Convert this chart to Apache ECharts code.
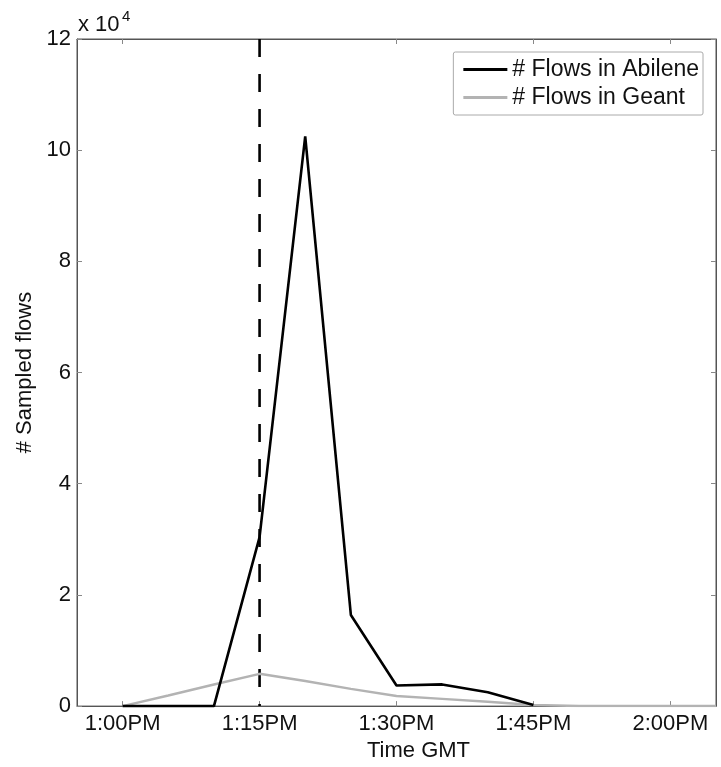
<!DOCTYPE html>
<html>
<head>
<meta charset="utf-8">
<script src="https://cdn.jsdelivr.net/npm/echarts@6/dist/echarts.min.js"></script>
<style>
  html, body { margin: 0; padding: 0; background: #fff; }
  #chart { width: 721px; height: 767px; }
</style>
</head>
<body>
<div id="chart"></div>
<script>
// Minutes after 1:00PM GMT
const minutes = [0, 5, 10, 15, 20, 25, 30, 35, 40, 45];
const abilene = [0, 0, 0, 30400, 102500, 16400, 3700, 3900, 2500, 200];
const geantMinutes = [0, 5, 10, 15, 20, 25, 30, 35, 40, 45, 50, 55, 60, 65];
const geant = [0, 1900, 3900, 5800, 4500, 3100, 1800, 1300, 800, 200, 0, 0, 0, 0];
const xTickValues = [0, 15, 30, 45, 60];
const xTickLabels = ['1:00PM', '1:15PM', '1:30PM', '1:45PM', '2:00PM'];
const eventMinute = 15;
const yMax = 120000;
const seriesNames = ['# Flows in Abilene', '# Flows in Geant'];

const FONT = '"Liberation Sans", Arial, Helvetica, sans-serif';
const chart = echarts.init(document.getElementById('chart'), null, { renderer: 'canvas' });

const axisGray = '#555';
const tickStyle = { show: true, inside: true, length: 5, lineStyle: { color: '#888', width: 1 } };
const lineIcon = 'path://M0,0 L44,0 L44,3 L0,3 Z';

const option = {
  animation: false,
  backgroundColor: '#fff',
  textStyle: { fontFamily: FONT },
  grid: {
    left: 77, right: 5, top: 39, bottom: 55,
    show: true, borderColor: axisGray, borderWidth: 1, backgroundColor: '#fff'
  },
  legend: {
    orient: 'vertical',
    right: 18, top: 52,
    itemWidth: 44, itemHeight: 3, itemGap: 5,
    backgroundColor: '#fff',
    borderColor: '#aaa', borderWidth: 1, borderRadius: 2,
    padding: [6, 4, 6, 10],
    textStyle: { fontSize: 23, color: '#111', fontFamily: FONT, lineHeight: 23 },
    data: [
      { name: seriesNames[0], icon: lineIcon, itemStyle: { color: '#000' } },
      { name: seriesNames[1], icon: lineIcon, itemStyle: { color: '#b3b3b3' } }
    ]
  },
  xAxis: [
    {
      type: 'value', min: -5, max: 65, position: 'bottom',
      name: 'Time GMT', nameLocation: 'middle', nameGap: 32,
      nameTextStyle: { fontSize: 22, color: '#111', fontFamily: FONT, padding: [0, 0, 0, 44] },
      axisLine: { show: true, onZero: false, lineStyle: { color: axisGray, width: 1 } },
      axisTick: Object.assign({ customValues: xTickValues }, tickStyle),
      axisLabel: {
        customValues: xTickValues, margin: 7, fontSize: 22, color: '#111', fontFamily: FONT,
        formatter: v => xTickLabels[xTickValues.indexOf(v)] || ''
      },
      splitLine: { show: false }
    },
    {
      type: 'value', min: -5, max: 65, position: 'top',
      axisLine: { show: true, onZero: false, lineStyle: { color: axisGray, width: 1 } },
      axisTick: Object.assign({ customValues: xTickValues }, tickStyle),
      axisLabel: { show: false },
      splitLine: { show: false }
    }
  ],
  yAxis: [
    {
      type: 'value', min: 0, max: yMax, interval: 20000, position: 'left',
      name: '# Sampled flows', nameLocation: 'middle', nameGap: 35, nameRotate: 90,
      nameTextStyle: { fontSize: 22, color: '#111', fontFamily: FONT },
      axisLine: { show: true, onZero: false, lineStyle: { color: axisGray, width: 1 } },
      axisTick: tickStyle,
      axisLabel: { margin: 6, fontSize: 22, color: '#111', fontFamily: FONT, formatter: v => String(v / 10000) },
      splitLine: { show: false }
    },
    {
      type: 'value', min: 0, max: yMax, interval: 20000, position: 'right',
      axisLine: { show: true, onZero: false, lineStyle: { color: axisGray, width: 1 } },
      axisTick: tickStyle,
      axisLabel: { show: false },
      splitLine: { show: false }
    }
  ],
  series: [
    {
      name: 'event', type: 'line', xAxisIndex: 0, yAxisIndex: 0,
      data: [[eventMinute, yMax], [eventMinute, 0]],
      showSymbol: false, symbol: 'none', silent: true,
      lineStyle: { color: '#000', width: 2.6, type: [18, 17] }, z: 2
    },
    {
      name: seriesNames[1], type: 'line', xAxisIndex: 0, yAxisIndex: 0,
      data: geantMinutes.map((m, i) => [m, geant[i]]),
      showSymbol: false, symbol: 'none', clip: true,
      lineStyle: { color: '#b3b3b3', width: 2.5 }, itemStyle: { color: '#b3b3b3' }, z: 3
    },
    {
      name: seriesNames[0], type: 'line', xAxisIndex: 0, yAxisIndex: 0,
      data: minutes.map((m, i) => [m, abilene[i]]),
      showSymbol: false, symbol: 'none', clip: true,
      lineStyle: { color: '#000', width: 2.6 }, itemStyle: { color: '#000' }, z: 4
    }
  ],
  graphic: [
    { type: 'text', left: 78, top: 14, style: { text: 'x 10', font: '22px ' + FONT, fill: '#111' } },
    { type: 'text', left: 122, top: 9, style: { text: '4', font: '15px ' + FONT, fill: '#111' } }
  ]
};
chart.setOption(option);
</script>
</body>
</html>
